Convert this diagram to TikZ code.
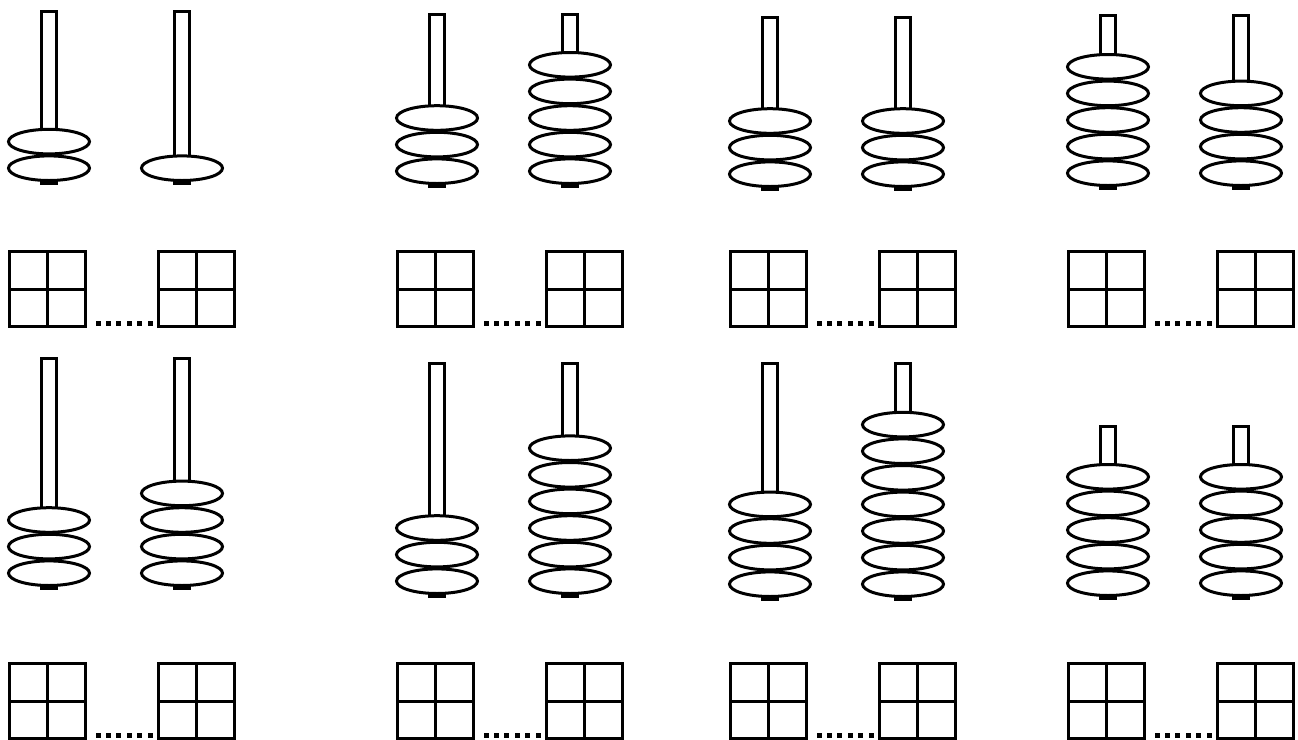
\documentclass[tikz,border=0pt]{standalone}
\begin{document}
\begin{tikzpicture}[x=0.5pt, y=-0.5pt, line width=1.5pt,
    rod/.style={draw, fill=white},
    bead/.style={draw, fill=white},
    cell/.style={draw},
    dot/.style={fill=black}
]
\useasboundingbox (0,0) rectangle (1298,740);

% x / top / bottom / beads
\foreach \x/\t/\b/\n in {
                49/9.5/182/2, 182/9.5/182/1,%
                437/12.7/185/3, 570/12.7/185/5,
                770/15.7/188/3, 903/15.7/188/3,
                1108/14.3/187/5, 1241/14.3/187/4,
                49/357/587/3, 182/357/587/4,
                437/362/595/3, 570/362/595/6,
                770/362/598/4, 903/362/598/7,
                1108/425/597/5, 1241/425/597/5%
            }{
    \draw [rod] (\x-7.5,\t+1.5) rectangle (\x+7.5,\b+1.5);
    \foreach \k in {1,...,\n}
        \draw [bead] (\x,\b-13.8-26.6*\k+26.6) ellipse [x radius=40.5, y radius=12.3];
}

\foreach \gx in {49,437,770,1108}
    \foreach \gy in {250,662}{
        \foreach \bx in {\gx-39.5,\gx+109.5}
            \draw [cell] (\bx,\gy+1.5) rectangle +(76,75)
                (\bx+38,\gy+1.5) -- +(0,75) (\bx,\gy+39) -- +(76,0);
        \foreach \i in {0,...,5}
            \fill [dot] (\gx+46.5+10.4*\i,\gy+71) rectangle +(5,5);
    }

\end{tikzpicture}
\end{document}
